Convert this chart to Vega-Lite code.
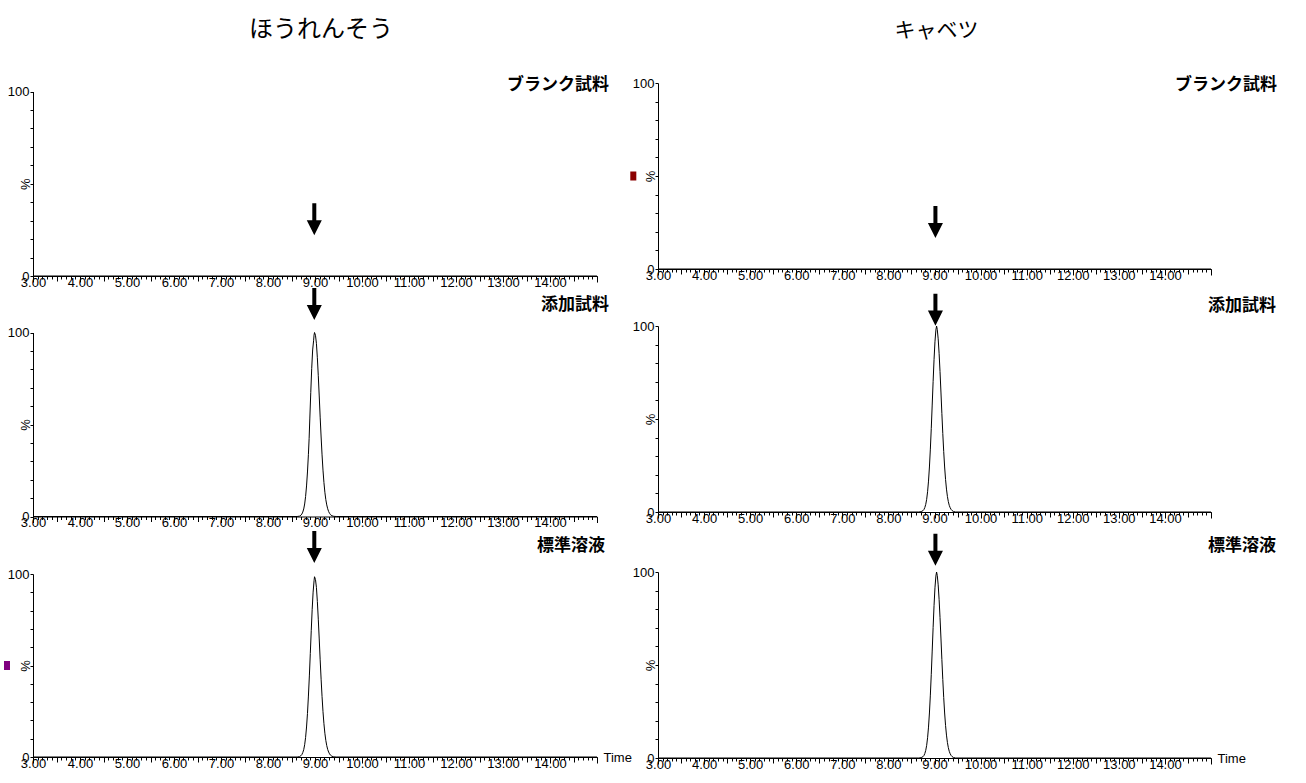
{
  "$schema": "https://vega.github.io/schema/vega-lite/v6.json",
  "background": "white",
  "padding": {"left": 3, "top": 18, "right": 5, "bottom": 5},
  "config": {
    "view": {"stroke": null},
    "axis": {
      "grid": false, "domainColor": "black", "tickColor": "black", "labelColor": "black", "titleColor": "black",
      "labelFont": "Liberation Sans, Arial, sans-serif", "labelFontSize": 13,
      "titleFont": "Liberation Sans, Arial, sans-serif", "titleFontSize": 13, "titleFontWeight": "normal",
      "domainWidth": 1, "tickWidth": 1
    },
    "title": {"color": "black"}
  },
  "datasets": {
    "peaks": [
      {"panel": "L1", "t": 3.0, "v": 0}, {"panel": "L1", "t": 15.0, "v": 0},
      {"panel": "R1", "t": 3.0, "v": 0}, {"panel": "R1", "t": 15.0, "v": 0},
      {"panel": "L2", "t": 3.0, "v": 0}, {"panel": "L2", "t": 8.62, "v": 0}, {"panel": "L2", "t": 8.67, "v": 0.2}, {"panel": "L2", "t": 8.70, "v": 0.7}, {"panel": "L2", "t": 8.72, "v": 1.3}, {"panel": "L2", "t": 8.74, "v": 2.4}, {"panel": "L2", "t": 8.76, "v": 4.1}, {"panel": "L2", "t": 8.78, "v": 6.8}, {"panel": "L2", "t": 8.80, "v": 10.9}, {"panel": "L2", "t": 8.82, "v": 16.6}, {"panel": "L2", "t": 8.84, "v": 24.2}, {"panel": "L2", "t": 8.86, "v": 33.8}, {"panel": "L2", "t": 8.875, "v": 42.5}, {"panel": "L2", "t": 8.89, "v": 53.5}, {"panel": "L2", "t": 8.91, "v": 67.5}, {"panel": "L2", "t": 8.93, "v": 80.5}, {"panel": "L2", "t": 8.95, "v": 90.5}, {"panel": "L2", "t": 8.97, "v": 95.5}, {"panel": "L2", "t": 8.98, "v": 98.6}, {"panel": "L2", "t": 8.99, "v": 100}, {"panel": "L2", "t": 9.01, "v": 98.5}, {"panel": "L2", "t": 9.03, "v": 94.1}, {"panel": "L2", "t": 9.05, "v": 86.3}, {"panel": "L2", "t": 9.07, "v": 76.5}, {"panel": "L2", "t": 9.09, "v": 65.5}, {"panel": "L2", "t": 9.11, "v": 54.0}, {"panel": "L2", "t": 9.13, "v": 43.2}, {"panel": "L2", "t": 9.15, "v": 33.5}, {"panel": "L2", "t": 9.17, "v": 25.2}, {"panel": "L2", "t": 9.19, "v": 18.5}, {"panel": "L2", "t": 9.21, "v": 13.2}, {"panel": "L2", "t": 9.23, "v": 9.2}, {"panel": "L2", "t": 9.25, "v": 6.3}, {"panel": "L2", "t": 9.27, "v": 4.2}, {"panel": "L2", "t": 9.29, "v": 2.7}, {"panel": "L2", "t": 9.31, "v": 1.7}, {"panel": "L2", "t": 9.33, "v": 1.0}, {"panel": "L2", "t": 9.36, "v": 0.4}, {"panel": "L2", "t": 9.40, "v": 0.1}, {"panel": "L2", "t": 9.45, "v": 0}, {"panel": "L2", "t": 15.0, "v": 0},
      {"panel": "L3", "t": 3.0, "v": 0}, {"panel": "L3", "t": 8.62, "v": 0}, {"panel": "L3", "t": 8.67, "v": 0.2}, {"panel": "L3", "t": 8.70, "v": 0.7}, {"panel": "L3", "t": 8.72, "v": 1.3}, {"panel": "L3", "t": 8.74, "v": 2.4}, {"panel": "L3", "t": 8.76, "v": 4.0}, {"panel": "L3", "t": 8.78, "v": 6.7}, {"panel": "L3", "t": 8.80, "v": 10.7}, {"panel": "L3", "t": 8.82, "v": 16.4}, {"panel": "L3", "t": 8.84, "v": 23.8}, {"panel": "L3", "t": 8.86, "v": 33.3}, {"panel": "L3", "t": 8.88, "v": 44.3}, {"panel": "L3", "t": 8.90, "v": 56.6}, {"panel": "L3", "t": 8.92, "v": 69.0}, {"panel": "L3", "t": 8.94, "v": 80.7}, {"panel": "L3", "t": 8.96, "v": 90.1}, {"panel": "L3", "t": 8.98, "v": 96.3}, {"panel": "L3", "t": 8.99, "v": 98.5}, {"panel": "L3", "t": 9.01, "v": 97.0}, {"panel": "L3", "t": 9.03, "v": 92.7}, {"panel": "L3", "t": 9.05, "v": 85.0}, {"panel": "L3", "t": 9.07, "v": 75.3}, {"panel": "L3", "t": 9.09, "v": 64.5}, {"panel": "L3", "t": 9.11, "v": 53.1}, {"panel": "L3", "t": 9.13, "v": 42.5}, {"panel": "L3", "t": 9.15, "v": 33.0}, {"panel": "L3", "t": 9.17, "v": 24.8}, {"panel": "L3", "t": 9.19, "v": 18.2}, {"panel": "L3", "t": 9.21, "v": 13.0}, {"panel": "L3", "t": 9.23, "v": 9.1}, {"panel": "L3", "t": 9.25, "v": 6.2}, {"panel": "L3", "t": 9.27, "v": 4.1}, {"panel": "L3", "t": 9.29, "v": 2.7}, {"panel": "L3", "t": 9.31, "v": 1.7}, {"panel": "L3", "t": 9.33, "v": 1.0}, {"panel": "L3", "t": 9.36, "v": 0.4}, {"panel": "L3", "t": 9.40, "v": 0.1}, {"panel": "L3", "t": 9.45, "v": 0}, {"panel": "L3", "t": 15.0, "v": 0},
      {"panel": "R2", "t": 3.0, "v": 0}, {"panel": "R2", "t": 8.66, "v": 0}, {"panel": "R2", "t": 8.71, "v": 0.2}, {"panel": "R2", "t": 8.75, "v": 0.7}, {"panel": "R2", "t": 8.77, "v": 1.3}, {"panel": "R2", "t": 8.79, "v": 2.4}, {"panel": "R2", "t": 8.81, "v": 4.1}, {"panel": "R2", "t": 8.83, "v": 6.8}, {"panel": "R2", "t": 8.85, "v": 10.9}, {"panel": "R2", "t": 8.87, "v": 16.6}, {"panel": "R2", "t": 8.89, "v": 24.2}, {"panel": "R2", "t": 8.91, "v": 33.8}, {"panel": "R2", "t": 8.93, "v": 45.0}, {"panel": "R2", "t": 8.95, "v": 57.5}, {"panel": "R2", "t": 8.97, "v": 70.1}, {"panel": "R2", "t": 8.99, "v": 81.9}, {"panel": "R2", "t": 9.01, "v": 91.5}, {"panel": "R2", "t": 9.03, "v": 97.8}, {"panel": "R2", "t": 9.045, "v": 100}, {"panel": "R2", "t": 9.06, "v": 98.2}, {"panel": "R2", "t": 9.08, "v": 93.1}, {"panel": "R2", "t": 9.10, "v": 85.3}, {"panel": "R2", "t": 9.12, "v": 75.5}, {"panel": "R2", "t": 9.14, "v": 64.5}, {"panel": "R2", "t": 9.16, "v": 53.0}, {"panel": "R2", "t": 9.18, "v": 42.2}, {"panel": "R2", "t": 9.20, "v": 32.5}, {"panel": "R2", "t": 9.22, "v": 24.2}, {"panel": "R2", "t": 9.24, "v": 17.5}, {"panel": "R2", "t": 9.26, "v": 12.3}, {"panel": "R2", "t": 9.28, "v": 8.4}, {"panel": "R2", "t": 9.30, "v": 5.6}, {"panel": "R2", "t": 9.32, "v": 3.6}, {"panel": "R2", "t": 9.34, "v": 2.3}, {"panel": "R2", "t": 9.36, "v": 1.4}, {"panel": "R2", "t": 9.38, "v": 0.8}, {"panel": "R2", "t": 9.41, "v": 0.3}, {"panel": "R2", "t": 9.46, "v": 0}, {"panel": "R2", "t": 15.0, "v": 0},
      {"panel": "R3", "t": 3.0, "v": 0}, {"panel": "R3", "t": 8.66, "v": 0}, {"panel": "R3", "t": 8.71, "v": 0.2}, {"panel": "R3", "t": 8.75, "v": 0.7}, {"panel": "R3", "t": 8.77, "v": 1.3}, {"panel": "R3", "t": 8.79, "v": 2.4}, {"panel": "R3", "t": 8.81, "v": 4.1}, {"panel": "R3", "t": 8.83, "v": 6.8}, {"panel": "R3", "t": 8.85, "v": 10.9}, {"panel": "R3", "t": 8.87, "v": 16.6}, {"panel": "R3", "t": 8.89, "v": 24.2}, {"panel": "R3", "t": 8.91, "v": 33.8}, {"panel": "R3", "t": 8.93, "v": 45.0}, {"panel": "R3", "t": 8.95, "v": 57.5}, {"panel": "R3", "t": 8.97, "v": 70.1}, {"panel": "R3", "t": 8.99, "v": 81.9}, {"panel": "R3", "t": 9.01, "v": 91.5}, {"panel": "R3", "t": 9.03, "v": 97.8}, {"panel": "R3", "t": 9.045, "v": 100}, {"panel": "R3", "t": 9.06, "v": 98.2}, {"panel": "R3", "t": 9.08, "v": 93.1}, {"panel": "R3", "t": 9.10, "v": 85.3}, {"panel": "R3", "t": 9.12, "v": 75.5}, {"panel": "R3", "t": 9.14, "v": 64.5}, {"panel": "R3", "t": 9.16, "v": 53.0}, {"panel": "R3", "t": 9.18, "v": 42.2}, {"panel": "R3", "t": 9.20, "v": 32.5}, {"panel": "R3", "t": 9.22, "v": 24.2}, {"panel": "R3", "t": 9.24, "v": 17.5}, {"panel": "R3", "t": 9.26, "v": 12.3}, {"panel": "R3", "t": 9.28, "v": 8.4}, {"panel": "R3", "t": 9.30, "v": 5.6}, {"panel": "R3", "t": 9.32, "v": 3.6}, {"panel": "R3", "t": 9.34, "v": 2.3}, {"panel": "R3", "t": 9.36, "v": 1.4}, {"panel": "R3", "t": 9.38, "v": 0.8}, {"panel": "R3", "t": 9.41, "v": 0.3}, {"panel": "R3", "t": 9.46, "v": 0}, {"panel": "R3", "t": 15.0, "v": 0}
    ],
    "arrows": [
      {"panel": "L1", "t": 8.985, "v": 30.7},
      {"panel": "L2", "t": 8.985, "v": 115.5},
      {"panel": "L3", "t": 8.985, "v": 114.8},
      {"panel": "R1", "t": 9.02, "v": 25.3},
      {"panel": "R2", "t": 9.02, "v": 108.8},
      {"panel": "R3", "t": 9.02, "v": 112.0}
    ],
    "markers": [
      {"panel": "L3", "t": 2.447, "v": 50},
      {"panel": "R1", "t": 2.464, "v": 50}
    ],
    "labels": [
      {"panel": "L1", "label": "ブランク試料"},
      {"panel": "L2", "label": "添加試料"},
      {"panel": "L3", "label": "標準溶液"},
      {"panel": "R1", "label": "ブランク試料"},
      {"panel": "R2", "label": "添加試料"},
      {"panel": "R3", "label": "標準溶液"}
    ]
  },
  "columns": 2,
  "spacing": {"row": 50, "column": 61},
  "bounds": "flush",
  "concat": [
    {
      "width": 564, "height": 193,
      "title": {"text": "ほうれんそう", "font": "Noto Sans CJK JP", "fontSize": 24, "fontWeight": "normal", "anchor": "middle", "frame": "group", "offset": 34, "dx": 6},
      "resolve": {"axis": {"x": "independent"}},
      "layer": [
        {"data": {"name": "peaks"}, "transform": [{"filter": "datum.panel === 'L1'"}],
         "mark": {"type": "line", "color": "black", "strokeWidth": 1},
         "encoding": {
           "x": {"field": "t", "type": "quantitative", "scale": {"domain": [3, 15], "nice": false, "zero": false},
                 "axis": {"orient": "bottom", "offset": 0, "title": null, "tickCount": 120, "tickSize": 3, "labels": false, "domain": true}},
           "y": {"field": "v", "type": "quantitative", "scale": {"domain": [0, 100], "nice": false, "zero": false, "range": [193, 8.5]},
                 "axis": {"title": "%", "values": [0, 10, 20, 30, 40, 50, 60, 70, 80, 90, 100], "labelExpr": "datum.value === 0 || datum.value === 100 ? datum.label : ''", "tickSize": 3, "labelPadding": 1, "titleX": -8, "titleY": 100.75, "titleAngle": 270, "titleAlign": "center", "titleBaseline": "middle"}}
         }},
        {"data": {"name": "arrows"}, "transform": [{"filter": "datum.panel === 'L1'"}],
         "mark": {"type": "point", "shape": "M-0.125,-1L0.125,-1L0.125,0.06L0.47,0.06L0,1L-0.47,0.06L-0.125,0.06Z", "filled": true, "color": "black", "opacity": 1, "size": 1024, "strokeWidth": 0},
         "encoding": {
           "x": {"field": "t", "type": "quantitative", "scale": {"domain": [3, 15], "nice": false, "zero": false},
                 "axis": {"orient": "bottom", "offset": 0, "title": null, "values": [3, 4, 5, 6, 7, 8, 9, 10, 11, 12, 13, 14, 15], "tickSize": 6, "domain": false, "labelExpr": "datum.value < 14.5 ? format(datum.value, '.2f') : ''", "labelPadding": -6, "labelOverlap": false, "labelFlush": false, "labelBound": false}},
           "y": {"field": "v", "type": "quantitative", "scale": {"domain": [0, 100], "nice": false, "zero": false, "range": [193, 8.5]},
                 "axis": {"title": "%", "values": [0, 10, 20, 30, 40, 50, 60, 70, 80, 90, 100], "labelExpr": "datum.value === 0 || datum.value === 100 ? datum.label : ''", "tickSize": 3, "labelPadding": 1, "titleX": -8, "titleY": 100.75, "titleAngle": 270, "titleAlign": "center", "titleBaseline": "middle"}}
         }},
        {"data": {"name": "labels"}, "transform": [{"filter": "datum.panel === 'L1'"}],
         "mark": {"type": "text", "align": "right", "baseline": "middle", "font": "Noto Sans CJK JP", "fontSize": 17, "fontWeight": "bold", "color": "black"},
         "encoding": {
           "x": {"datum": 15.255, "type": "quantitative", "scale": {"domain": [3, 15], "nice": false, "zero": false},
                 "axis": {"orient": "bottom", "offset": 0, "title": null, "values": [3.5, 4.5, 5.5, 6.5, 7.5, 8.5, 9.5, 10.5, 11.5, 12.5, 13.5, 14.5], "tickSize": 5, "labels": false, "domain": false}},
           "y": {"datum": 103.5, "type": "quantitative", "scale": {"domain": [0, 100], "nice": false, "zero": false, "range": [193, 8.5]},
                 "axis": {"title": "%", "values": [0, 10, 20, 30, 40, 50, 60, 70, 80, 90, 100], "labelExpr": "datum.value === 0 || datum.value === 100 ? datum.label : ''", "tickSize": 3, "labelPadding": 1, "titleX": -8, "titleY": 100.75, "titleAngle": 270, "titleAlign": "center", "titleBaseline": "middle"}},
           "text": {"field": "label"}
         }}
      ]
    },
    {
      "width": 553, "height": 193,
      "title": {"text": "キャベツ", "font": "Noto Sans CJK JP", "fontSize": 21, "fontWeight": "normal", "anchor": "middle", "frame": "group", "offset": 35.5, "dx": 2},
      "resolve": {"axis": {"x": "independent"}},
      "layer": [
        {"data": {"name": "peaks"}, "transform": [{"filter": "datum.panel === 'R1'"}],
         "mark": {"type": "line", "color": "black", "strokeWidth": 1},
         "encoding": {
           "x": {"field": "t", "type": "quantitative", "scale": {"domain": [3, 15], "nice": false, "zero": false},
                 "axis": {"orient": "bottom", "offset": -7, "title": null, "tickCount": 120, "tickSize": 3, "labels": false, "domain": true}},
           "y": {"field": "v", "type": "quantitative", "scale": {"domain": [0, 100], "nice": false, "zero": false, "range": [186, 0]},
                 "axis": {"title": "%", "values": [0, 10, 20, 30, 40, 50, 60, 70, 80, 90, 100], "labelExpr": "datum.value === 0 || datum.value === 100 ? datum.label : ''", "tickSize": 3, "labelPadding": 1, "titleX": -8, "titleY": 93, "titleAngle": 270, "titleAlign": "center", "titleBaseline": "middle"}}
         }},
        {"data": {"name": "arrows"}, "transform": [{"filter": "datum.panel === 'R1'"}],
         "mark": {"type": "point", "shape": "M-0.125,-1L0.125,-1L0.125,0.06L0.47,0.06L0,1L-0.47,0.06L-0.125,0.06Z", "filled": true, "color": "black", "opacity": 1, "size": 1024, "strokeWidth": 0},
         "encoding": {
           "x": {"field": "t", "type": "quantitative", "scale": {"domain": [3, 15], "nice": false, "zero": false},
                 "axis": {"orient": "bottom", "offset": -7, "title": null, "values": [3, 4, 5, 6, 7, 8, 9, 10, 11, 12, 13, 14, 15], "tickSize": 6, "domain": false, "labelExpr": "datum.value < 14.5 ? format(datum.value, '.2f') : ''", "labelPadding": -6, "labelOverlap": false, "labelFlush": false, "labelBound": false}},
           "y": {"field": "v", "type": "quantitative", "scale": {"domain": [0, 100], "nice": false, "zero": false, "range": [186, 0]},
                 "axis": {"title": "%", "values": [0, 10, 20, 30, 40, 50, 60, 70, 80, 90, 100], "labelExpr": "datum.value === 0 || datum.value === 100 ? datum.label : ''", "tickSize": 3, "labelPadding": 1, "titleX": -8, "titleY": 93, "titleAngle": 270, "titleAlign": "center", "titleBaseline": "middle"}}
         }},
        {"data": {"name": "markers"}, "transform": [{"filter": "datum.panel === 'R1'"}],
         "mark": {"type": "point", "shape": "M-0.67,-1L0.67,-1L0.67,1L-0.67,1Z", "filled": true, "color": "#8b0000", "opacity": 1, "size": 81, "strokeWidth": 0},
         "encoding": {
           "x": {"field": "t", "type": "quantitative", "scale": {"domain": [3, 15], "nice": false, "zero": false}, "axis": null},
           "y": {"field": "v", "type": "quantitative", "scale": {"domain": [0, 100], "nice": false, "zero": false, "range": [186, 0]},
                 "axis": {"title": "%", "values": [0, 10, 20, 30, 40, 50, 60, 70, 80, 90, 100], "labelExpr": "datum.value === 0 || datum.value === 100 ? datum.label : ''", "tickSize": 3, "labelPadding": 1, "titleX": -8, "titleY": 93, "titleAngle": 270, "titleAlign": "center", "titleBaseline": "middle"}}
         }},
        {"data": {"name": "labels"}, "transform": [{"filter": "datum.panel === 'R1'"}],
         "mark": {"type": "text", "align": "right", "baseline": "middle", "font": "Noto Sans CJK JP", "fontSize": 17, "fontWeight": "bold", "color": "black"},
         "encoding": {
           "x": {"datum": 16.43, "type": "quantitative", "scale": {"domain": [3, 15], "nice": false, "zero": false},
                 "axis": {"orient": "bottom", "offset": -7, "title": null, "values": [3.5, 4.5, 5.5, 6.5, 7.5, 8.5, 9.5, 10.5, 11.5, 12.5, 13.5, 14.5], "tickSize": 5, "labels": false, "domain": false}},
           "y": {"datum": 98.9, "type": "quantitative", "scale": {"domain": [0, 100], "nice": false, "zero": false, "range": [186, 0]},
                 "axis": {"title": "%", "values": [0, 10, 20, 30, 40, 50, 60, 70, 80, 90, 100], "labelExpr": "datum.value === 0 || datum.value === 100 ? datum.label : ''", "tickSize": 3, "labelPadding": 1, "titleX": -8, "titleY": 93, "titleAngle": 270, "titleAlign": "center", "titleBaseline": "middle"}},
           "text": {"field": "label"}
         }}
      ]
    },
    {
      "width": 564, "height": 196,
      "resolve": {"axis": {"x": "independent"}},
      "layer": [
        {"data": {"name": "peaks"}, "transform": [{"filter": "datum.panel === 'L2'"}],
         "mark": {"type": "line", "color": "black", "strokeWidth": 1},
         "encoding": {
           "x": {"field": "t", "type": "quantitative", "scale": {"domain": [3, 15], "nice": false, "zero": false},
                 "axis": {"orient": "bottom", "offset": -5.5, "title": null, "tickCount": 120, "tickSize": 3, "labels": false, "domain": true}},
           "y": {"field": "v", "type": "quantitative", "scale": {"domain": [0, 100], "nice": false, "zero": false, "range": [190.5, 6.5]},
                 "axis": {"title": "%", "values": [0, 10, 20, 30, 40, 50, 60, 70, 80, 90, 100], "labelExpr": "datum.value === 0 || datum.value === 100 ? datum.label : ''", "tickSize": 3, "labelPadding": 1, "titleX": -8, "titleY": 98.5, "titleAngle": 270, "titleAlign": "center", "titleBaseline": "middle"}}
         }},
        {"data": {"name": "arrows"}, "transform": [{"filter": "datum.panel === 'L2'"}],
         "mark": {"type": "point", "shape": "M-0.125,-1L0.125,-1L0.125,0.06L0.47,0.06L0,1L-0.47,0.06L-0.125,0.06Z", "filled": true, "color": "black", "opacity": 1, "size": 1024, "strokeWidth": 0},
         "encoding": {
           "x": {"field": "t", "type": "quantitative", "scale": {"domain": [3, 15], "nice": false, "zero": false},
                 "axis": {"orient": "bottom", "offset": -5.5, "title": null, "values": [3, 4, 5, 6, 7, 8, 9, 10, 11, 12, 13, 14, 15], "tickSize": 6, "domain": false, "labelExpr": "datum.value < 14.5 ? format(datum.value, '.2f') : ''", "labelPadding": -6, "labelOverlap": false, "labelFlush": false, "labelBound": false}},
           "y": {"field": "v", "type": "quantitative", "scale": {"domain": [0, 100], "nice": false, "zero": false, "range": [190.5, 6.5]},
                 "axis": {"title": "%", "values": [0, 10, 20, 30, 40, 50, 60, 70, 80, 90, 100], "labelExpr": "datum.value === 0 || datum.value === 100 ? datum.label : ''", "tickSize": 3, "labelPadding": 1, "titleX": -8, "titleY": 98.5, "titleAngle": 270, "titleAlign": "center", "titleBaseline": "middle"}}
         }},
        {"data": {"name": "labels"}, "transform": [{"filter": "datum.panel === 'L2'"}],
         "mark": {"type": "text", "align": "right", "baseline": "middle", "font": "Noto Sans CJK JP", "fontSize": 17, "fontWeight": "bold", "color": "black"},
         "encoding": {
           "x": {"datum": 15.255, "type": "quantitative", "scale": {"domain": [3, 15], "nice": false, "zero": false},
                 "axis": {"orient": "bottom", "offset": -5.5, "title": null, "values": [3.5, 4.5, 5.5, 6.5, 7.5, 8.5, 9.5, 10.5, 11.5, 12.5, 13.5, 14.5], "tickSize": 5, "labels": false, "domain": false}},
           "y": {"datum": 114.9, "type": "quantitative", "scale": {"domain": [0, 100], "nice": false, "zero": false, "range": [190.5, 6.5]},
                 "axis": {"title": "%", "values": [0, 10, 20, 30, 40, 50, 60, 70, 80, 90, 100], "labelExpr": "datum.value === 0 || datum.value === 100 ? datum.label : ''", "tickSize": 3, "labelPadding": 1, "titleX": -8, "titleY": 98.5, "titleAngle": 270, "titleAlign": "center", "titleBaseline": "middle"}},
           "text": {"field": "label"}
         }}
      ]
    },
    {
      "width": 553, "height": 196,
      "resolve": {"axis": {"x": "independent"}},
      "layer": [
        {"data": {"name": "peaks"}, "transform": [{"filter": "datum.panel === 'R2'"}],
         "mark": {"type": "line", "color": "black", "strokeWidth": 1},
         "encoding": {
           "x": {"field": "t", "type": "quantitative", "scale": {"domain": [3, 15], "nice": false, "zero": false},
                 "axis": {"orient": "bottom", "offset": -10, "title": null, "tickCount": 120, "tickSize": 3, "labels": false, "domain": true}},
           "y": {"field": "v", "type": "quantitative", "scale": {"domain": [0, 100], "nice": false, "zero": false, "range": [186, 0]},
                 "axis": {"title": "%", "values": [0, 10, 20, 30, 40, 50, 60, 70, 80, 90, 100], "labelExpr": "datum.value === 0 || datum.value === 100 ? datum.label : ''", "tickSize": 3, "labelPadding": 1, "titleX": -8, "titleY": 93, "titleAngle": 270, "titleAlign": "center", "titleBaseline": "middle"}}
         }},
        {"data": {"name": "arrows"}, "transform": [{"filter": "datum.panel === 'R2'"}],
         "mark": {"type": "point", "shape": "M-0.125,-1L0.125,-1L0.125,0.06L0.47,0.06L0,1L-0.47,0.06L-0.125,0.06Z", "filled": true, "color": "black", "opacity": 1, "size": 1024, "strokeWidth": 0},
         "encoding": {
           "x": {"field": "t", "type": "quantitative", "scale": {"domain": [3, 15], "nice": false, "zero": false},
                 "axis": {"orient": "bottom", "offset": -10, "title": null, "values": [3, 4, 5, 6, 7, 8, 9, 10, 11, 12, 13, 14, 15], "tickSize": 6, "domain": false, "labelExpr": "datum.value < 14.5 ? format(datum.value, '.2f') : ''", "labelPadding": -6, "labelOverlap": false, "labelFlush": false, "labelBound": false}},
           "y": {"field": "v", "type": "quantitative", "scale": {"domain": [0, 100], "nice": false, "zero": false, "range": [186, 0]},
                 "axis": {"title": "%", "values": [0, 10, 20, 30, 40, 50, 60, 70, 80, 90, 100], "labelExpr": "datum.value === 0 || datum.value === 100 ? datum.label : ''", "tickSize": 3, "labelPadding": 1, "titleX": -8, "titleY": 93, "titleAngle": 270, "titleAlign": "center", "titleBaseline": "middle"}}
         }},
        {"data": {"name": "labels"}, "transform": [{"filter": "datum.panel === 'R2'"}],
         "mark": {"type": "text", "align": "right", "baseline": "middle", "font": "Noto Sans CJK JP", "fontSize": 17, "fontWeight": "bold", "color": "black"},
         "encoding": {
           "x": {"datum": 16.41, "type": "quantitative", "scale": {"domain": [3, 15], "nice": false, "zero": false},
                 "axis": {"orient": "bottom", "offset": -10, "title": null, "values": [3.5, 4.5, 5.5, 6.5, 7.5, 8.5, 9.5, 10.5, 11.5, 12.5, 13.5, 14.5], "tickSize": 5, "labels": false, "domain": false}},
           "y": {"datum": 110.9, "type": "quantitative", "scale": {"domain": [0, 100], "nice": false, "zero": false, "range": [186, 0]},
                 "axis": {"title": "%", "values": [0, 10, 20, 30, 40, 50, 60, 70, 80, 90, 100], "labelExpr": "datum.value === 0 || datum.value === 100 ? datum.label : ''", "tickSize": 3, "labelPadding": 1, "titleX": -8, "titleY": 93, "titleAngle": 270, "titleAlign": "center", "titleBaseline": "middle"}},
           "text": {"field": "label"}
         }}
      ]
    },
    {
      "width": 564, "height": 186,
      "resolve": {"axis": {"x": "independent"}},
      "layer": [
        {"data": {"name": "peaks"}, "transform": [{"filter": "datum.panel === 'L3'"}],
         "mark": {"type": "line", "color": "black", "strokeWidth": 1},
         "encoding": {
           "x": {"field": "t", "type": "quantitative", "scale": {"domain": [3, 15], "nice": false, "zero": false},
                 "axis": {"orient": "bottom", "offset": -1, "title": "Time", "titleX": 570, "titleY": 0, "titleAlign": "left", "titleBaseline": "middle", "titleAngle": 0, "tickCount": 120, "tickSize": 3, "labels": false, "domain": true}},
           "y": {"field": "v", "type": "quantitative", "scale": {"domain": [0, 100], "nice": false, "zero": false, "range": [185, 2]},
                 "axis": {"title": "%", "values": [0, 10, 20, 30, 40, 50, 60, 70, 80, 90, 100], "labelExpr": "datum.value === 0 || datum.value === 100 ? datum.label : ''", "tickSize": 3, "labelPadding": 1, "titleX": -8, "titleY": 93.5, "titleAngle": 270, "titleAlign": "center", "titleBaseline": "middle"}}
         }},
        {"data": {"name": "arrows"}, "transform": [{"filter": "datum.panel === 'L3'"}],
         "mark": {"type": "point", "shape": "M-0.125,-1L0.125,-1L0.125,0.06L0.47,0.06L0,1L-0.47,0.06L-0.125,0.06Z", "filled": true, "color": "black", "opacity": 1, "size": 1024, "strokeWidth": 0},
         "encoding": {
           "x": {"field": "t", "type": "quantitative", "scale": {"domain": [3, 15], "nice": false, "zero": false},
                 "axis": {"orient": "bottom", "offset": -1, "title": null, "values": [3, 4, 5, 6, 7, 8, 9, 10, 11, 12, 13, 14, 15], "tickSize": 6, "domain": false, "labelExpr": "datum.value < 14.5 ? format(datum.value, '.2f') : ''", "labelPadding": -6, "labelOverlap": false, "labelFlush": false, "labelBound": false}},
           "y": {"field": "v", "type": "quantitative", "scale": {"domain": [0, 100], "nice": false, "zero": false, "range": [185, 2]},
                 "axis": {"title": "%", "values": [0, 10, 20, 30, 40, 50, 60, 70, 80, 90, 100], "labelExpr": "datum.value === 0 || datum.value === 100 ? datum.label : ''", "tickSize": 3, "labelPadding": 1, "titleX": -8, "titleY": 93.5, "titleAngle": 270, "titleAlign": "center", "titleBaseline": "middle"}}
         }},
        {"data": {"name": "markers"}, "transform": [{"filter": "datum.panel === 'L3'"}],
         "mark": {"type": "point", "shape": "M-0.67,-1L0.67,-1L0.67,1L-0.67,1Z", "filled": true, "color": "#800080", "opacity": 1, "size": 81, "strokeWidth": 0},
         "encoding": {
           "x": {"field": "t", "type": "quantitative", "scale": {"domain": [3, 15], "nice": false, "zero": false}, "axis": null},
           "y": {"field": "v", "type": "quantitative", "scale": {"domain": [0, 100], "nice": false, "zero": false, "range": [185, 2]},
                 "axis": {"title": "%", "values": [0, 10, 20, 30, 40, 50, 60, 70, 80, 90, 100], "labelExpr": "datum.value === 0 || datum.value === 100 ? datum.label : ''", "tickSize": 3, "labelPadding": 1, "titleX": -8, "titleY": 93.5, "titleAngle": 270, "titleAlign": "center", "titleBaseline": "middle"}}
         }},
        {"data": {"name": "labels"}, "transform": [{"filter": "datum.panel === 'L3'"}],
         "mark": {"type": "text", "align": "right", "baseline": "middle", "font": "Noto Sans CJK JP", "fontSize": 17, "fontWeight": "bold", "color": "black"},
         "encoding": {
           "x": {"datum": 15.17, "type": "quantitative", "scale": {"domain": [3, 15], "nice": false, "zero": false},
                 "axis": {"orient": "bottom", "offset": -1, "title": null, "values": [3.5, 4.5, 5.5, 6.5, 7.5, 8.5, 9.5, 10.5, 11.5, 12.5, 13.5, 14.5], "tickSize": 5, "labels": false, "domain": false}},
           "y": {"datum": 115.3, "type": "quantitative", "scale": {"domain": [0, 100], "nice": false, "zero": false, "range": [185, 2]},
                 "axis": {"title": "%", "values": [0, 10, 20, 30, 40, 50, 60, 70, 80, 90, 100], "labelExpr": "datum.value === 0 || datum.value === 100 ? datum.label : ''", "tickSize": 3, "labelPadding": 1, "titleX": -8, "titleY": 93.5, "titleAngle": 270, "titleAlign": "center", "titleBaseline": "middle"}},
           "text": {"field": "label"}
         }}
      ]
    },
    {
      "width": 553, "height": 186,
      "resolve": {"axis": {"x": "independent"}},
      "layer": [
        {"data": {"name": "peaks"}, "transform": [{"filter": "datum.panel === 'R3'"}],
         "mark": {"type": "line", "color": "black", "strokeWidth": 1},
         "encoding": {
           "x": {"field": "t", "type": "quantitative", "scale": {"domain": [3, 15], "nice": false, "zero": false},
                 "axis": {"orient": "bottom", "offset": 0, "title": "Time", "titleX": 559, "titleY": 0, "titleAlign": "left", "titleBaseline": "middle", "titleAngle": 0, "tickCount": 120, "tickSize": 3, "labels": false, "domain": true}},
           "y": {"field": "v", "type": "quantitative", "scale": {"domain": [0, 100], "nice": false, "zero": false, "range": [186, 0]},
                 "axis": {"title": "%", "values": [0, 10, 20, 30, 40, 50, 60, 70, 80, 90, 100], "labelExpr": "datum.value === 0 || datum.value === 100 ? datum.label : ''", "tickSize": 3, "labelPadding": 1, "titleX": -8, "titleY": 93, "titleAngle": 270, "titleAlign": "center", "titleBaseline": "middle"}}
         }},
        {"data": {"name": "arrows"}, "transform": [{"filter": "datum.panel === 'R3'"}],
         "mark": {"type": "point", "shape": "M-0.125,-1L0.125,-1L0.125,0.06L0.47,0.06L0,1L-0.47,0.06L-0.125,0.06Z", "filled": true, "color": "black", "opacity": 1, "size": 1024, "strokeWidth": 0},
         "encoding": {
           "x": {"field": "t", "type": "quantitative", "scale": {"domain": [3, 15], "nice": false, "zero": false},
                 "axis": {"orient": "bottom", "offset": 0, "title": null, "values": [3, 4, 5, 6, 7, 8, 9, 10, 11, 12, 13, 14, 15], "tickSize": 6, "domain": false, "labelExpr": "datum.value < 14.5 ? format(datum.value, '.2f') : ''", "labelPadding": -6, "labelOverlap": false, "labelFlush": false, "labelBound": false}},
           "y": {"field": "v", "type": "quantitative", "scale": {"domain": [0, 100], "nice": false, "zero": false, "range": [186, 0]},
                 "axis": {"title": "%", "values": [0, 10, 20, 30, 40, 50, 60, 70, 80, 90, 100], "labelExpr": "datum.value === 0 || datum.value === 100 ? datum.label : ''", "tickSize": 3, "labelPadding": 1, "titleX": -8, "titleY": 93, "titleAngle": 270, "titleAlign": "center", "titleBaseline": "middle"}}
         }},
        {"data": {"name": "labels"}, "transform": [{"filter": "datum.panel === 'R3'"}],
         "mark": {"type": "text", "align": "right", "baseline": "middle", "font": "Noto Sans CJK JP", "fontSize": 17, "fontWeight": "bold", "color": "black"},
         "encoding": {
           "x": {"datum": 16.41, "type": "quantitative", "scale": {"domain": [3, 15], "nice": false, "zero": false},
                 "axis": {"orient": "bottom", "offset": 0, "title": null, "values": [3.5, 4.5, 5.5, 6.5, 7.5, 8.5, 9.5, 10.5, 11.5, 12.5, 13.5, 14.5], "tickSize": 5, "labels": false, "domain": false}},
           "y": {"datum": 114.0, "type": "quantitative", "scale": {"domain": [0, 100], "nice": false, "zero": false, "range": [186, 0]},
                 "axis": {"title": "%", "values": [0, 10, 20, 30, 40, 50, 60, 70, 80, 90, 100], "labelExpr": "datum.value === 0 || datum.value === 100 ? datum.label : ''", "tickSize": 3, "labelPadding": 1, "titleX": -8, "titleY": 93, "titleAngle": 270, "titleAlign": "center", "titleBaseline": "middle"}},
           "text": {"field": "label"}
         }}
      ]
    }
  ]
}
